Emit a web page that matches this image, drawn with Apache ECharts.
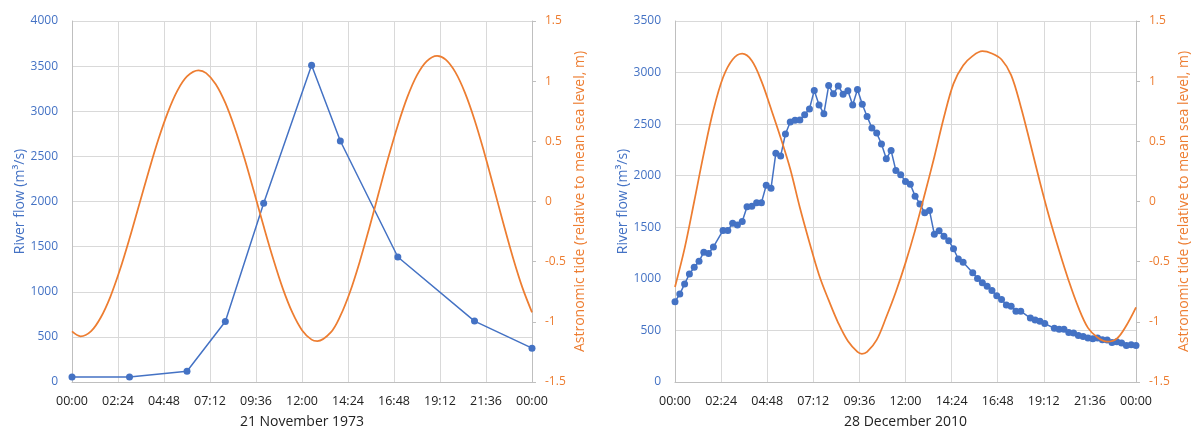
<!DOCTYPE html>
<html>
<head>
<meta charset="utf-8">
<script src="https://cdn.jsdelivr.net/npm/echarts@6/dist/echarts.min.js"></script>
<style>
  html, body { margin: 0; padding: 0; background: #fff; }
  #chart { width: 1192px; height: 434px; }
</style>
</head>
<body>
<div id="chart"></div>
<script>
// x axis: hours of the day, labelled every 2.4 h
const hourTicks = ['00:00', '02:24', '04:48', '07:12', '09:36', '12:00', '14:24', '16:48', '19:12', '21:36', '00:00'];
const dayTitles = ['21 November 1973', '28 December 2010'];

// 21 November 1973
const flowTimes1973 = [0, 3, 6, 8, 10, 12.5, 14, 17, 21, 24];
const flow1973 = [55, 55, 120, 670, 1980, 3510, 2670, 1385, 675, 375];
const tideTimes1973 = [0, 0.45, 1, 1.5, 2, 2.5, 3, 3.5, 4, 4.5, 5, 5.5, 6, 6.6, 7, 7.5, 8, 8.5, 9, 9.5, 10, 10.5, 11, 11.5,
  12, 12.5, 12.8, 13.5, 14, 14.5, 15, 15.5, 16, 16.5, 17, 17.5, 18, 18.5, 19.05, 19.5, 20, 20.5, 21, 21.5, 22, 22.5, 23, 23.5, 24];
const tide1973 = [-1.08, -1.12, -1.077, -0.964, -0.792, -0.568, -0.308, -0.029, 0.25, 0.513, 0.741, 0.921, 1.039, 1.09, 1.067, 0.975, 0.819, 0.607, 0.357, 0.079, -0.206, -0.478, -0.724, -0.924,
  -1.069, -1.148, -1.16, -1.088, -0.951, -0.754, -0.506, -0.226, 0.07, 0.363, 0.634, 0.869, 1.05, 1.165, 1.21, 1.179, 1.075, 0.905, 0.68, 0.412, 0.119, -0.179, -0.463, -0.716, -0.921];

// 28 December 2010
const flowTimes2010 = [0, 0.25, 0.5, 0.75, 1, 1.25, 1.5, 1.75, 2,
  2.5, 2.75, 3, 3.25, 3.5, 3.75, 4, 4.25, 4.5, 4.75,
  5, 5.25, 5.5, 5.75, 6, 6.25, 6.5, 6.75, 7, 7.25,
  7.5, 7.75, 8, 8.25, 8.5, 8.75, 9, 9.25, 9.5, 9.75,
  10, 10.25, 10.5, 10.75, 11, 11.25, 11.5, 11.75, 12, 12.25,
  12.5, 12.75, 13, 13.25, 13.5, 13.75, 14, 14.25, 14.5, 14.75,
  15,
  15.5, 15.75, 16, 16.25, 16.5, 16.75, 17, 17.25, 17.5, 17.75, 18,
  18.5, 18.75, 19, 19.25,
  19.75, 20, 20.25, 20.5, 20.75, 21, 21.25, 21.5, 21.75, 22, 22.25, 22.5, 22.75, 23, 23.25, 23.5, 23.75, 24];
const flow2010 = [779, 852, 951, 1046, 1113, 1170, 1259, 1246, 1310,
  1469, 1469, 1538, 1523, 1557, 1700, 1704, 1739, 1739, 1907,
  1879, 2219, 2190, 2405, 2521, 2537, 2540, 2591, 2648, 2826,
  2686, 2600, 2874, 2794, 2871, 2791, 2823, 2686, 2835, 2692,
  2575, 2463, 2413, 2308, 2165, 2244, 2050, 2009, 1945, 1917,
  1802, 1726, 1640, 1662, 1433, 1466, 1414, 1370, 1291, 1192,
  1160,
  1059, 1004, 963, 928, 887, 836, 801, 746, 734, 686, 687,
  620, 601, 588, 566,
  521, 512, 512, 480, 474, 451, 442, 426, 420, 426, 410, 407, 384, 391, 378, 353, 362, 353];
const tideTimes2010 = [0, 0.5, 1, 1.5, 2, 2.5, 3, 3.5, 4, 4.5, 5, 5.5, 6, 6.5, 7, 7.5, 8, 8.5, 9, 9.5, 9.73,
  10, 10.5, 11, 11.5, 12, 12.5, 13, 13.5, 14, 14.5, 15, 15.5, 16, 16.5, 17, 17.5, 18, 18.5, 19, 19.5, 20, 20.5, 21, 21.5, 22, 22.5, 23, 23.5, 24];
const tide2010 = [-0.71, -0.39, 0, 0.4, 0.76, 1.03, 1.18, 1.228, 1.17, 1.0, 0.77, 0.53, 0.27, -0.05, -0.34, -0.61, -0.82, -1.01, -1.16, -1.25, -1.266,
  -1.25, -1.15, -0.96, -0.75, -0.51, -0.24, 0.06, 0.37, 0.7, 0.98, 1.13, 1.21, 1.249, 1.23, 1.18, 1.05, 0.79, 0.48, 0.16, -0.14, -0.41, -0.66, -0.88, -1.05, -1.13, -1.165, -1.14, -1.03, -0.88];

const flowMax = [4000, 3500];

const blue = '#4472C4';
const orange = '#ED7D31';
const font = 'Open Sans';
const gridColor = '#D9D9D9';
const axisColor = '#BFBFBF';

function zip(xs, ys) {
  return xs.map((x, i) => [x, ys[i]]);
}

function hourLabel(v) {
  return hourTicks[Math.round(v / 2.4)];
}

const chart = echarts.init(document.getElementById('chart'));

const grids = [
  { left: 72, right: 660, top: 21, bottom: 47 },
  { left: 675, right: 55, top: 21, bottom: 47 }
];

const xAxes = dayTitles.map((title, i) => ({
  type: 'value',
  gridIndex: i,
  min: 0,
  max: 24,
  interval: 2.4,
  name: title,
  nameLocation: 'middle',
  nameGap: 33,
  nameTextStyle: { color: '#222', fontSize: 14, fontFamily: font },
  axisLine: { show: true, lineStyle: { color: axisColor } },
  axisTick: { show: false },
  axisLabel: { color: '#222', fontSize: 12.5, fontFamily: font, margin: 13, formatter: hourLabel },
  splitLine: { show: true, lineStyle: { color: gridColor } }
}));

const yAxes = [];
flowMax.forEach((mx, i) => {
  yAxes.push({
    type: 'value',
    gridIndex: i,
    position: 'left',
    min: 0,
    max: mx,
    interval: 500,
    name: 'River flow (m³/s)',
    nameLocation: 'middle',
    nameRotate: 90,
    nameGap: 43,
    nameTextStyle: { color: blue, fontSize: 14, fontFamily: font },
    axisLine: { show: true, lineStyle: { color: axisColor } },
    axisTick: { show: false },
    axisLabel: { color: blue, fontSize: 12, fontFamily: font, margin: 14, formatter: v => String(v) },
    splitLine: { show: true, lineStyle: { color: gridColor } }
  });
  yAxes.push({
    type: 'value',
    gridIndex: i,
    position: 'right',
    min: -1.5,
    max: 1.5,
    interval: 0.5,
    name: 'Astronomic tide (relative to mean sea level, m)',
    nameLocation: 'middle',
    nameRotate: 90,
    nameGap: 41,
    nameTextStyle: { color: orange, fontSize: 14, fontFamily: font },
    axisLine: { show: true, lineStyle: { color: axisColor } },
    axisTick: { show: true, length: 4, lineStyle: { color: axisColor } },
    axisLabel: { color: orange, fontSize: 12, fontFamily: font, margin: 13, formatter: v => String(v) },
    splitLine: { show: false }
  });
});

function flowSeries(xi, yi, data) {
  return {
    type: 'line',
    xAxisIndex: xi,
    yAxisIndex: yi,
    data: data,
    symbol: 'circle',
    symbolSize: 7,
    lineStyle: { color: blue, width: 1.5 },
    itemStyle: { color: blue },
    z: 2
  };
}

function tideSeries(xi, yi, data) {
  return {
    type: 'line',
    xAxisIndex: xi,
    yAxisIndex: yi,
    data: data,
    smooth: 0.35,
    showSymbol: false,
    symbol: 'none',
    lineStyle: { color: orange, width: 1.75 },
    z: 3
  };
}

chart.setOption({
  animation: false,
  grid: grids,
  xAxis: xAxes,
  yAxis: yAxes,
  series: [
    flowSeries(0, 0, zip(flowTimes1973, flow1973)),
    tideSeries(0, 1, zip(tideTimes1973, tide1973)),
    flowSeries(1, 2, zip(flowTimes2010, flow2010)),
    tideSeries(1, 3, zip(tideTimes2010, tide2010))
  ]
});
</script>
</body>
</html>
